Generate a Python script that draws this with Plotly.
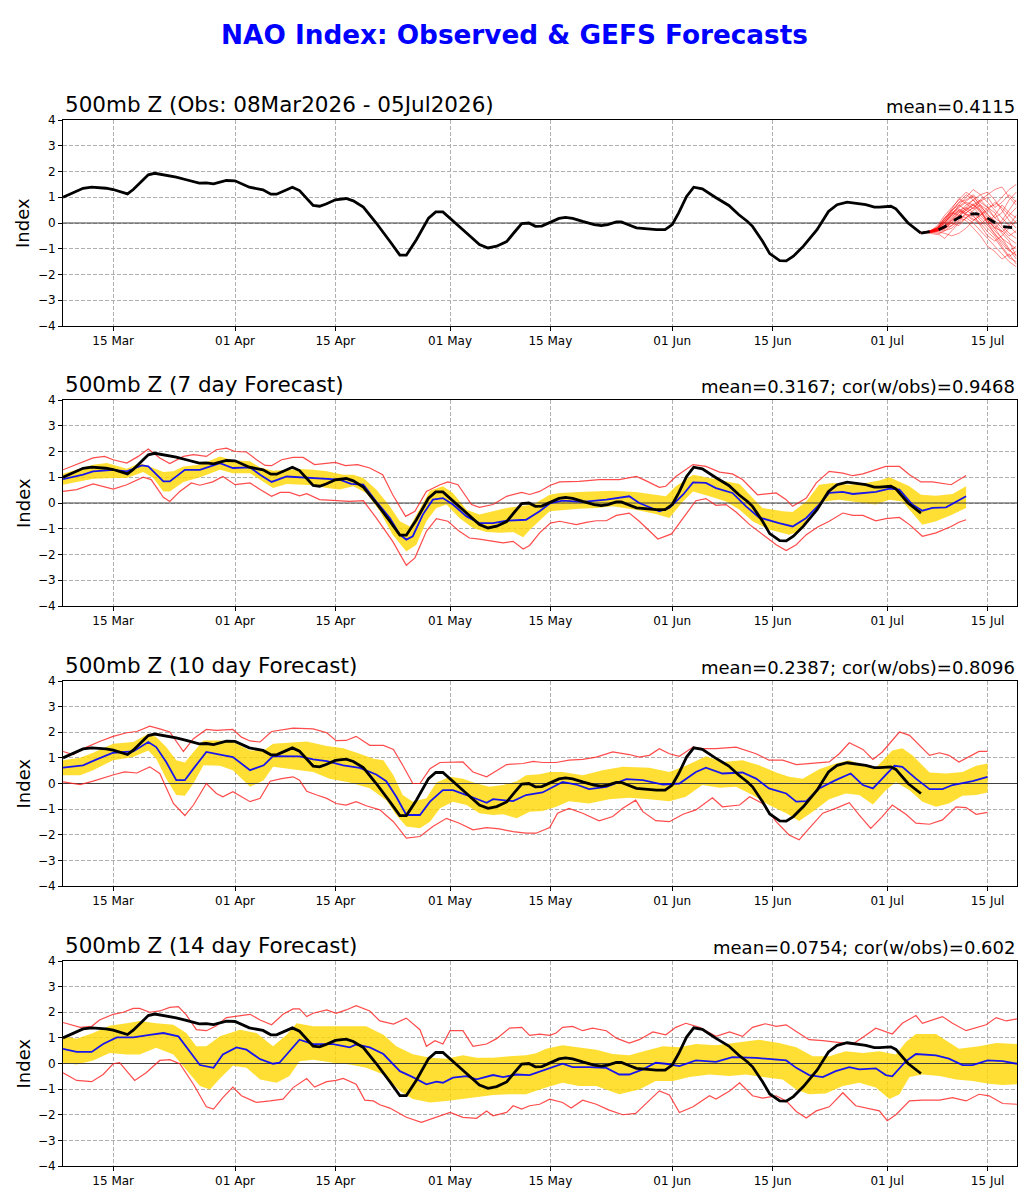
import plotly.graph_objects as go
import pandas as pd

# ---------------- DATA ----------------
BASE_DATE = "2026-03-08"          # day 0
X_LAST_DAY = 133.1                # right end of the x axis (days after base)

tick_days = [7, 24, 38, 54, 68, 85, 99, 115, 129]
tick_labels = ["15 Mar", "01 Apr", "15 Apr", "01 May", "15 May",
               "01 Jun", "15 Jun", "01 Jul", "15 Jul"]

# observed NAO index (day, value)
obs = [(0, 1.0), (2.8, 1.35), (4, 1.39), (6, 1.35), (7, 1.3), (9, 1.13), (9.8, 1.3),
       (11.9, 1.87), (12.8, 1.93), (14.4, 1.85), (15.8, 1.78), (17.2, 1.68), (19, 1.55),
       (20, 1.56), (21, 1.52), (22.8, 1.65), (24, 1.64), (26, 1.39), (27.9, 1.29),
       (29, 1.12), (29.8, 1.12), (32, 1.39), (33, 1.26), (34.9, 0.68), (35.8, 0.65),
       (36.7, 0.74), (38, 0.9), (39.5, 0.95), (40.5, 0.86), (41.9, 0.62), (43.7, 0.0),
       (45.6, -0.71), (47, -1.25), (47.9, -1.25), (49.3, -0.65), (51, 0.19), (52, 0.43),
       (53, 0.43), (54, 0.19), (56.3, -0.39), (58.1, -0.84), (59.3, -0.97), (60.5, -0.9),
       (61.9, -0.72), (63, -0.35), (64, -0.02), (65, 0.0), (65.9, -0.13), (66.8, -0.12),
       (68, 0.04), (69.2, 0.18), (70.1, 0.22), (71.1, 0.18), (72.5, 0.06), (74.1, -0.06),
       (75.1, -0.1), (76, -0.06), (77.2, 0.04), (77.9, 0.04), (78.8, -0.06), (80, -0.19),
       (81.6, -0.23), (82.8, -0.26), (84, -0.26), (85, -0.06), (85.9, 0.39), (87, 1.03),
       (88, 1.39), (89.2, 1.33), (91, 1.0), (92.9, 0.68), (94.3, 0.32), (95.5, 0.06),
       (96.2, -0.13), (97.6, -0.71), (98.6, -1.19), (100, -1.46), (100.9, -1.47),
       (101.9, -1.29), (103.3, -0.9), (105.2, -0.26), (106.8, 0.45), (108, 0.71),
       (109.4, 0.81), (110.8, 0.77), (112, 0.71), (113.2, 0.62), (113.9, 0.62),
       (115.5, 0.65), (116.2, 0.55), (117.9, 0.0), (119.7, -0.39)]

# GEFS ensemble members after the last observation (panel 1)
ens_days = [119.7, 121, 122, 123, 124, 125, 126, 127, 128, 129, 130, 131, 132, 133]
ens_members = [
    [-0.38, -0.30, -0.20, 0.10, 0.50, 0.80, 0.90, 1.10, 0.80, 0.60, 0.20, 0.40, 0.90, 1.20],
    [-0.38, -0.35, -0.30, -0.20, 0.10, 0.30, 0.20, 0.00, -0.30, -0.60, -0.90, -1.20, -1.50, -1.70],
    [-0.38, -0.32, -0.10, 0.30, 0.60, 0.90, 1.20, 1.00, 0.70, 0.30, 0.10, -0.20, -0.50, -0.30],
    [-0.38, -0.40, -0.45, -0.30, -0.10, 0.10, 0.40, 0.60, 0.90, 1.10, 1.30, 1.40, 1.00, 0.70],
    [-0.38, -0.34, -0.25, -0.10, 0.20, 0.50, 0.60, 0.40, 0.20, -0.10, -0.40, -0.80, -1.10, -0.90],
    [-0.38, -0.30, -0.20, 0.00, 0.30, 0.70, 1.00, 1.30, 1.10, 0.80, 0.50, 0.20, -0.10, -0.40],
    [-0.38, -0.36, -0.35, -0.40, -0.50, -0.40, -0.20, 0.10, 0.30, 0.00, -0.30, -0.60, -0.80, -1.00],
    [-0.38, -0.33, -0.20, 0.20, 0.50, 0.70, 0.50, 0.70, 0.90, 0.60, 0.70, 1.00, 1.30, 1.50],
    [-0.38, -0.37, -0.30, -0.10, 0.00, 0.30, 0.50, 0.30, -0.10, -0.50, -0.70, -0.50, -0.20, 0.10],
    [-0.38, -0.32, -0.25, 0.00, 0.40, 0.60, 0.80, 0.70, 0.40, 0.10, -0.20, -0.60, -1.00, -1.40],
    [-0.38, -0.35, -0.40, -0.60, -0.30, 0.00, 0.20, 0.50, 0.70, 0.50, 0.20, 0.00, 0.30, 0.60],
    [-0.38, -0.31, -0.15, 0.20, 0.40, 0.30, 0.60, 0.90, 1.10, 1.20, 0.90, 0.50, 0.10, -0.20],
    [-0.38, -0.34, -0.30, -0.20, -0.10, 0.20, 0.10, -0.20, -0.50, -0.90, -1.10, -1.40, -1.20, -1.60],
    [-0.38, -0.33, -0.22, 0.05, 0.30, 0.50, 0.40, 0.60, 0.30, 0.50, 0.80, 0.60, 0.30, 0.00],
    [-0.38, -0.36, -0.30, -0.15, 0.15, 0.40, 0.70, 0.90, 0.60, 0.20, -0.20, -0.30, -0.60, -0.80],
    [-0.38, -0.30, -0.18, 0.10, 0.35, 0.55, 0.30, 0.10, 0.30, 0.60, 0.40, -0.10, -0.40, -0.60],
    [-0.38, -0.35, -0.28, -0.20, 0.00, -0.10, 0.20, 0.40, 0.10, -0.20, -0.50, -0.90, -1.30, -1.10],
    [-0.38, -0.32, -0.20, 0.10, 0.45, 0.80, 1.10, 0.90, 0.50, 0.00, 0.30, 0.70, 0.40, 0.20],
    [-0.38, -0.34, -0.26, -0.05, 0.25, 0.45, 0.35, 0.15, -0.05, 0.20, -0.10, -0.40, -0.70, -1.30],
    [-0.38, -0.33, -0.30, -0.25, 0.05, 0.25, 0.50, 0.70, 0.50, 0.10, -0.20, 0.10, 0.50, 0.90],
    [-0.38, -0.31, -0.22, 0.15, 0.55, 0.95, 0.75, 0.55, 0.85, 1.00, 0.60, 0.80, 1.10, 0.80],
    [-0.38, -0.36, -0.33, -0.30, -0.20, 0.05, 0.35, 0.25, 0.00, -0.35, -0.60, -1.00, -1.35, -1.50],
    [-0.38, -0.32, -0.24, 0.00, 0.35, 0.65, 0.85, 1.05, 0.65, 0.35, 0.00, -0.35, -0.10, 0.30],
    [-0.38, -0.35, -0.27, -0.12, 0.10, 0.40, 0.55, 0.75, 0.45, 0.00, -0.45, -0.70, -1.05, -1.25],
]
ens_mean = [(119.7, -0.39), (120.6, -0.35), (122, -0.28), (123, -0.15), (124.3, 0.1),
            (125.7, 0.32), (127.4, 0.36), (128.3, 0.3), (129.5, 0.1), (130.9, -0.13),
            (132.5, -0.18), (133.1, -0.18)]

# ---- 7 day forecast ----
fc7_max = [(0, 1.29), (4.2, 1.75), (5.8, 1.81), (7, 1.68), (8.9, 1.55), (10.5, 1.81), (11.9, 2.1),
           (13.5, 1.75), (14.9, 1.53), (16.8, 1.81), (18.2, 1.88), (20, 1.81), (21.4, 2.07),
           (22.8, 2.13), (24, 2.0), (25.6, 1.98), (27, 1.68), (28.2, 1.46), (29.1, 1.45),
           (30.5, 1.68), (32.1, 1.77), (33.5, 1.77), (35.1, 1.49), (36.6, 1.55), (38, 1.58),
           (39.4, 1.45), (41.1, 1.49), (42.8, 1.36), (44.6, 1.1), (46, 0.32), (47.8, -0.52),
           (49.1, -0.32), (50.7, 0.45), (52.6, 0.71), (53.7, 0.82), (55.1, 0.71), (57, -0.06),
           (58.1, -0.17), (60, -0.06), (61.9, 0.26), (64, 0.41), (65.1, 0.33), (66.5, 0.45),
           (68, 0.69), (69.3, 0.82), (72, 0.84), (74.8, 0.91), (77.6, 0.91), (80, 1.03),
           (81.3, 0.87), (83.2, 0.61), (84.1, 0.65), (85.5, 1.03), (87.9, 1.49), (89.7, 1.42),
           (91.6, 1.2), (93.4, 1.13), (94.8, 0.91), (96.9, 0.32), (99.5, 0.39), (100.9, 0.13),
           (101.8, -0.13), (103.7, 0.19), (105.1, 0.78), (106.9, 1.23), (108.8, 1.16),
           (110.2, 1.06), (111.6, 1.13), (113.4, 1.29), (114.8, 1.42), (116.7, 1.42),
           (118.1, 1.1), (119.7, 0.82), (121.3, 0.82), (123.9, 0.71), (126, 1.07)]
fc7_min = [(0, 0.45), (1.9, 0.52), (4.2, 0.74), (7, 0.54), (8.9, 0.71), (11.2, 1.0), (12.3, 0.91),
           (14, 0.22), (14.9, 0.06), (16.3, 0.45), (17.9, 0.78), (19.1, 0.69), (20.9, 0.82),
           (22.3, 1.03), (24, 0.71), (26.1, 0.78), (27.5, 0.52), (29.1, 0.26), (30.3, 0.41),
           (31.6, 0.41), (33, 0.28), (34, 0.36), (35.8, 0.13), (38.1, 0.09), (40, 0.06),
           (41.9, 0.09), (43.7, -0.58), (46, -1.49), (47.9, -2.42), (49.1, -2.13), (50.7, -1.1),
           (52.1, -0.61), (53.7, -0.71), (55.3, -1.1), (56.7, -1.36), (58.1, -1.4), (60, -1.49),
           (61.4, -1.55), (62.8, -1.49), (64.2, -1.79), (65.1, -1.65), (66.5, -1.16),
           (68, -0.78), (69.3, -0.71), (71.6, -0.84), (73, -0.75), (74.4, -0.69), (75.8, -0.69),
           (77.2, -0.48), (79, -0.39), (80.4, -0.71), (83, -1.4), (84.9, -1.2), (86.5, -0.58),
           (88.3, 0.09), (89.7, 0.17), (91.1, -0.09), (92.5, -0.06), (93.9, -0.35),
           (95.8, -0.84), (97.6, -1.23), (99.5, -1.62), (100.9, -1.85), (102.3, -1.62),
           (103.7, -1.23), (105.3, -0.93), (106.9, -0.71), (108.8, -0.39), (110.2, -0.48),
           (111.6, -0.48), (113.4, -0.69), (114.8, -0.61), (116.7, -0.56), (118.1, -0.84),
           (119.9, -1.29), (121.8, -1.16), (123.9, -0.91), (125, -0.75), (126, -0.65)]
fc7_hi = [(0, 1.14), (4.2, 1.49), (6.1, 1.55), (8.9, 1.33), (10.7, 1.55), (12.1, 1.42), (14, 1.2),
          (15.4, 1.23), (16.8, 1.42), (19.1, 1.49), (21.9, 1.81), (23.7, 1.66), (26.1, 1.62),
          (27.5, 1.38), (29.3, 1.25), (31.2, 1.29), (33, 1.32), (34.9, 1.29), (36.8, 1.23),
          (39.1, 1.1), (40.5, 1.1), (41.9, 0.97), (43.7, 0.52), (45.6, -0.13), (47, -0.71),
          (48.4, -0.91), (49.8, -0.19), (51.2, 0.48), (53, 0.65), (54.4, 0.39), (56.3, -0.26),
          (58.1, -0.45), (60, -0.32), (61.9, -0.19), (63.7, -0.13), (65.6, -0.06), (67.9, 0.32),
          (69.3, 0.39), (72, 0.43), (76.7, 0.48), (79.9, 0.43), (82.7, 0.32), (84.1, 0.26),
          (85.5, 0.65), (87.9, 1.1), (90.2, 0.97), (92.5, 0.84), (94.4, 0.74), (95.8, 0.32),
          (97.6, -0.19), (100.4, -0.32), (101.8, -0.35), (103.7, 0.06), (105.5, 0.71),
          (107.4, 0.78), (109.7, 0.71), (112, 0.78), (113.9, 0.87), (115.3, 1.0), (116.7, 0.82),
          (118.1, 0.65), (119.7, 0.32), (121.8, 0.28), (124.1, 0.35), (126, 0.65)]
fc7_lo = [(0, 0.71), (4.2, 0.94), (7, 0.97), (8.9, 0.97), (11.2, 1.2), (12.6, 0.97), (14, 0.45),
          (14.9, 0.45), (16.8, 0.82), (19.1, 1.0), (21.9, 1.29), (23.7, 1.16), (26.1, 1.16),
          (27.5, 0.91), (29.3, 0.58), (31.2, 0.74), (33, 0.71), (34.9, 0.69), (36.8, 0.58),
          (38.6, 0.52), (40.5, 0.65), (42.3, 0.39), (44.2, -0.32), (46, -1.23), (47.9, -1.88),
          (49.3, -1.62), (50.7, -0.71), (52.1, -0.19), (53.5, -0.06), (55.3, -0.58),
          (57.2, -0.97), (59.1, -1.13), (60.9, -1.16), (62.8, -1.13), (64.2, -1.33),
          (65.1, -1.05), (67.9, -0.32), (69.9, -0.26), (72, -0.22), (74.4, -0.19), (76.7, -0.13),
          (79.9, -0.26), (82.7, -0.43), (84.6, -0.58), (86.5, 0.06), (87.9, 0.45), (90.2, 0.26),
          (92.5, 0.06), (94.4, -0.26), (96.2, -0.71), (98.5, -1.03), (101.3, -1.23),
          (102.7, -1.1), (104.6, -0.32), (106, 0.06), (108.3, 0.13), (111.6, 0.0),
          (113.4, -0.06), (115.3, 0.13), (117.1, 0.06), (118.5, -0.39), (119.9, -0.84),
          (121.8, -0.71), (124.1, -0.45), (126, -0.19)]
fc7_mean = [(0, 0.93), (2.8, 1.1), (4.2, 1.23), (7, 1.29), (8.9, 1.23), (11, 1.46), (11.9, 1.42),
            (14, 0.84), (14.9, 0.84), (17, 1.29), (19.1, 1.29), (21.9, 1.55), (23.7, 1.36),
            (26.1, 1.38), (27.5, 1.1), (29.1, 0.82), (31.2, 1.03), (33, 1.0), (34.9, 0.97),
            (37.2, 0.94), (38.6, 0.91), (40.2, 0.74), (41.9, 0.71), (43.7, 0.06), (45.6, -0.58),
            (47, -1.23), (47.9, -1.42), (48.8, -1.29), (50.2, -0.45), (51.6, 0.13), (53, 0.19),
            (54.4, -0.06), (56.3, -0.52), (58.1, -0.78), (60, -0.78), (61.9, -0.69),
            (64.6, -0.65), (66.5, -0.32), (68, 0.0), (69.7, 0.09), (72.5, 0.04), (75.8, 0.13),
            (79, 0.26), (80.4, 0.0), (83.2, -0.32), (84.6, -0.19), (86.5, 0.32), (87.9, 0.8),
            (89.7, 0.78), (91.1, 0.58), (93.4, 0.39), (95.3, -0.13), (97.1, -0.56),
            (99.9, -0.78), (101.8, -0.91), (103.7, -0.58), (105.5, -0.06), (106.9, 0.39),
            (108.8, 0.43), (110.2, 0.35), (113.4, 0.43), (115.3, 0.56), (116.7, 0.52),
            (118.5, -0.06), (119.9, -0.3), (121.3, -0.19), (123.2, -0.17), (126, 0.26)]

# ---- 10 day forecast ----
fc10_max = [(0, 1.25), (1.4, 1.13), (3.3, 1.42), (5.1, 1.64), (7, 1.84), (8.9, 1.98), (10.3, 2.03),
            (12.1, 2.24), (13.5, 2.13), (14.9, 2.01), (16.8, 1.25), (18.2, 1.75), (20, 2.11),
            (21.4, 2.07), (23.7, 2.11), (24.9, 1.81), (26.1, 1.66), (27.5, 1.62), (29.1, 2.03),
            (32.1, 2.16), (34.9, 2.13), (36.8, 1.98), (38.1, 1.67), (39.5, 1.68), (40.9, 1.84),
            (42.8, 1.49), (44.7, 1.49), (46.1, 1.33), (47.4, 0.71), (48.8, 0.0), (49.8, 0.0),
            (51.2, 0.58), (52.6, 0.82), (54, 0.82), (55.8, 0.84), (57.2, 0.45), (59.1, 0.26),
            (61.9, 0.74), (64.2, 0.78), (65.6, 0.86), (66.9, 0.82), (68.8, 0.82), (70.6, 0.91),
            (72.5, 0.94), (74.4, 1.03), (76.7, 1.23), (79, 1.13), (80.4, 1.03), (81.8, 1.1),
            (83.2, 1.36), (84.6, 1.16), (86, 1.06), (87.9, 1.42), (89.2, 1.36), (91.1, 1.36),
            (93.9, 1.42), (96.7, 1.16), (98.5, 0.91), (100.4, 0.91), (102.3, 0.74),
            (104.6, 0.78), (106.9, 0.84), (108.3, 1.16), (109.7, 1.59), (111.6, 1.33),
            (113, 0.94), (114.3, 1.23), (116.7, 2.01), (118.1, 1.88), (119.5, 1.49),
            (120.9, 1.1), (122.3, 1.2), (123.6, 1.1), (125, 0.84), (126.4, 1.03),
            (127.8, 1.25), (129, 1.25)]
fc10_min = [(0, 0.06), (2.4, -0.04), (4.2, 0.09), (6.1, 0.26), (7.2, 0.35), (8.6, 0.45),
            (10.3, 0.41), (12.1, 0.65), (13.5, 0.39), (15.4, -0.78), (17, -1.25), (18.2, -0.84),
            (20, 0.0), (21.4, -0.39), (22.3, -0.52), (23.7, -0.32), (26.1, -0.71), (27.5, -0.58),
            (28.9, 0.09), (30.5, 0.19), (32.1, 0.26), (33, 0.13), (34, -0.3), (35.4, -0.45),
            (36.8, -0.58), (38.1, -0.78), (39.5, -0.84), (40.9, -0.71), (42.3, -0.87),
            (44.2, -1.03), (46.1, -1.49), (47.9, -2.13), (49.8, -2.07), (51.6, -1.68),
            (53.5, -1.36), (55.3, -1.55), (57.2, -1.81), (59.1, -1.72), (60.9, -1.77),
            (62.8, -1.88), (64.6, -1.94), (66, -1.94), (67.9, -1.72), (69, -1.16), (70.6, -0.97),
            (72.5, -1.16), (74.8, -1.46), (76.7, -1.29), (78.1, -0.97), (79.9, -0.65),
            (80.9, -1.1), (82.7, -1.45), (84.6, -1.49), (86.5, -1.2), (88.3, -1.03),
            (90.6, -0.56), (92, -0.91), (94.4, -0.84), (95.8, -0.52), (97.6, -0.78),
            (99.5, -1.49), (101.3, -2.01), (102.7, -2.2), (104.1, -1.75), (106, -1.16),
            (107.8, -0.97), (109.7, -0.75), (111.1, -1.23), (112.7, -1.75), (114.3, -1.29),
            (115.7, -0.84), (117.6, -1.2), (119, -1.55), (120.9, -1.59), (122.7, -1.42),
            (124.6, -0.91), (126, -0.94), (127.4, -1.2), (129, -1.13)]
fc10_hi = [(0, 0.91), (2.4, 1.0), (4.2, 1.2), (7, 1.55), (9.8, 1.62), (11.9, 1.94), (13, 1.81),
           (14.4, 1.42), (15.8, 0.91), (17, 0.82), (18.2, 1.23), (19.6, 1.68), (21.9, 1.68),
           (23.7, 1.62), (26.1, 1.29), (28, 1.29), (29.3, 1.55), (32.1, 1.62), (34, 1.64),
           (36.8, 1.46), (39.1, 1.38), (41.4, 1.16), (43.3, 0.97), (44.7, 0.91), (46.1, 0.32),
           (47.4, -0.45), (48.8, -0.71), (50.7, -0.58), (52.1, 0.04), (54, 0.26), (55.8, 0.19),
           (57.7, 0.0), (59.5, -0.13), (61.4, -0.06), (63.3, 0.09), (64.6, 0.32), (66.5, 0.36),
           (67.9, 0.45), (69.7, 0.45), (72.5, 0.32), (75.3, 0.52), (78.1, 0.65), (81.8, 0.61),
           (84.6, 0.45), (86.9, 0.69), (89.7, 1.06), (92, 0.84), (94.8, 0.91), (97.1, 0.71),
           (99.5, 0.43), (101.3, 0.26), (103.2, 0.19), (105.5, 0.56), (107.8, 0.78),
           (109.7, 0.91), (111.6, 0.71), (113.4, 0.61), (115.7, 1.29), (117.1, 1.38),
           (118.5, 1.1), (120.9, 0.43), (123.2, 0.39), (125.5, 0.45), (127.4, 0.69), (129, 0.78)]
fc10_lo = [(0, 0.32), (2.4, 0.32), (4.2, 0.52), (7, 0.91), (9.8, 1.03), (11.9, 1.29), (13, 0.97),
           (14.4, 0.19), (15.8, -0.45), (17, -0.48), (18.2, 0.0), (19.6, 0.71), (21.9, 0.69),
           (23.7, 0.52), (26.1, -0.13), (28, 0.13), (29.3, 0.65), (32.1, 0.56), (34.9, 0.45),
           (37.2, 0.19), (40, 0.04), (42.8, -0.19), (45.1, -0.65), (46.5, -1.23), (47.9, -1.68),
           (49.8, -1.75), (51.2, -1.49), (52.6, -0.97), (54.4, -0.71), (56.3, -0.84),
           (58.1, -1.16), (60, -1.23), (61.4, -1.2), (63.3, -1.36), (65.1, -1.1), (66.9, -1.07),
           (68.8, -0.91), (70.6, -0.69), (73.4, -0.78), (76.2, -0.61), (79, -0.56),
           (81.8, -0.61), (84.6, -0.69), (86.9, -0.52), (89.2, -0.06), (91.6, -0.17),
           (93.9, -0.13), (96.2, -0.45), (98.5, -0.84), (100.9, -1.16), (102.7, -1.46),
           (104.6, -1.1), (106.9, -0.61), (109.2, -0.39), (111.1, -0.45), (113, -0.82),
           (114.8, -0.26), (116.2, 0.06), (118.1, -0.26), (119.9, -0.71), (121.8, -0.91),
           (123.6, -0.78), (125.5, -0.48), (127.4, -0.45), (129, -0.35)]
fc10_mean = [(0, 0.62), (2.8, 0.71), (4.7, 0.94), (7, 1.2), (9.8, 1.25), (11.9, 1.62), (13, 1.42),
             (14.4, 0.84), (15.8, 0.13), (17, 0.13), (18.2, 0.58), (20, 1.23), (21.9, 1.13),
             (23.7, 1.03), (26.1, 0.52), (28, 0.71), (29.3, 1.07), (33, 1.06), (34.9, 0.94),
             (36.8, 0.87), (39.1, 0.71), (41.4, 0.61), (43.7, 0.35), (45.1, 0.09), (46.5, -0.52),
             (47.9, -1.23), (49.8, -1.23), (51.2, -0.71), (53, -0.26), (54.4, -0.26),
             (56.3, -0.45), (59.1, -0.75), (60, -0.61), (62.8, -0.69), (64.6, -0.45),
             (66.9, -0.35), (69.7, 0.06), (71.6, -0.04), (73.4, -0.22), (75.8, -0.13),
             (78.6, 0.17), (80.9, 0.13), (83.7, -0.04), (86, 0.0), (88.3, 0.45), (89.7, 0.62),
             (92, 0.39), (94.8, 0.43), (96.7, 0.19), (98.5, -0.19), (100.9, -0.39),
             (102.3, -0.71), (103.7, -0.69), (105.5, -0.19), (107.8, 0.13), (109.9, 0.39),
             (111.6, -0.06), (113, -0.19), (114.3, 0.19), (116, 0.69), (117.1, 0.65),
             (119, 0.19), (120.9, -0.22), (122.7, -0.22), (124.1, -0.06), (126.9, 0.09),
             (129, 0.26)]

# ---- 14 day forecast ----
fc14_max = [(0, 1.6), (2.4, 1.41), (4, 1.45), (5.1, 1.7), (7, 1.92), (8.4, 2.0), (9.8, 2.15),
            (10.7, 2.15), (12.1, 2.0), (13.5, 2.05), (14.9, 2.19), (16.1, 2.22), (17.2, 1.9),
            (18.6, 1.32), (20, 1.28), (21.4, 1.47), (22.8, 1.79), (24.7, 1.87), (26.1, 1.92),
            (27.5, 1.7), (29.1, 1.51), (30.7, 1.92), (32.1, 2.13), (33, 2.13), (34, 1.83),
            (34.9, 1.96), (36.8, 2.09), (38.1, 1.96), (39.5, 2.09), (40.9, 2.26), (42.8, 2.05),
            (44.2, 1.66), (46.1, 1.54), (47.9, 1.77), (49.8, 1.32), (50.7, 0.67), (51.9, 0.89),
            (53, 0.76), (54, 1.28), (55.8, 1.28), (57.2, 0.67), (59.1, 0.76), (60.5, 0.97),
            (62.3, 1.38), (64, 1.41), (65.1, 1.1), (66.5, 1.15), (67.9, 1.1), (68.8, 1.19),
            (69.7, 1.41), (71.1, 1.45), (72.5, 1.28), (73.9, 1.38), (75.8, 1.28), (77.2, 0.99),
            (79, 0.8), (80.4, 0.93), (82.3, 1.23), (84.1, 1.12), (85.5, 1.41), (86.9, 1.57),
            (88.8, 1.41), (91.1, 1.06), (93, 1.23), (94.8, 1.06), (96.2, 1.41), (98, 1.55),
            (99.5, 1.45), (100.9, 1.51), (102.3, 1.25), (104.1, 0.93), (106, 0.89),
            (107.9, 0.84), (110.2, 0.76), (111.6, 1.02), (113.4, 1.38), (115.7, 1.15),
            (117.1, 1.57), (119, 1.87), (119.9, 1.57), (122.7, 1.83), (124.1, 1.57), (126, 1.28),
            (127.4, 1.41), (128.8, 1.51), (130.2, 1.79), (131.6, 1.66), (133.1, 1.74)]
fc14_min = [(0, -0.36), (1.9, -0.66), (4, -0.71), (5.6, -0.43), (7, -0.01), (7.9, 0.03),
            (10, -0.66), (11.6, -0.36), (13.5, 0.12), (14.9, 0.15), (16.3, -0.01), (18.2, -0.81),
            (20, -1.69), (21, -1.78), (22.3, -1.33), (23.7, -0.92), (24.9, -1.26), (27, -1.52),
            (28.9, -1.46), (30.7, -1.39), (32.1, -0.94), (34, -0.59), (35.1, -0.92),
            (36.8, -0.71), (38.1, -0.66), (39.1, -0.58), (40.9, -0.81), (42.1, -1.43),
            (43.3, -1.46), (44.2, -1.61), (45.6, -1.74), (47.9, -2.1), (50, -2.3), (52.1, -2.08),
            (54, -1.91), (55.8, -2.1), (57.7, -2.14), (59.1, -1.85), (60, -2.04), (61.9, -1.91),
            (62.8, -1.65), (64, -1.78), (65.1, -1.65), (66.5, -1.59), (67.9, -1.39),
            (69.7, -1.52), (70.9, -1.74), (72.5, -1.43), (74.4, -1.59), (76.2, -1.82),
            (78.1, -2.0), (79.9, -1.95), (81.8, -1.46), (83.2, -1.07), (84.6, -1.23),
            (86, -1.91), (87.9, -1.69), (90.2, -1.26), (91.1, -1.39), (93, -1.07), (94.4, -0.75),
            (96.2, -1.26), (97.6, -1.35), (99.5, -1.26), (100.9, -1.46), (102.3, -1.87),
            (103.7, -2.13), (105.1, -1.85), (106.9, -1.69), (108.8, -1.14), (110.6, -1.65),
            (112.5, -1.78), (113.9, -1.85), (115, -2.23), (116.2, -2.0), (118.1, -1.46),
            (119.9, -1.43), (122.3, -1.43), (124.1, -1.33), (126, -1.46), (127.8, -1.2),
            (129.2, -1.26), (131.1, -1.56), (133.1, -1.59)]
fc14_hi = [(0, 1.06), (1.9, 0.97), (4.2, 1.19), (6.5, 1.47), (8.9, 1.57), (10.7, 1.66), (13, 1.57),
           (15.4, 1.51), (17.2, 1.19), (18.6, 0.67), (20, 0.67), (21.9, 1.06), (24.7, 1.32),
           (27, 1.19), (29.3, 0.67), (31.2, 1.12), (32.6, 1.57), (34.9, 1.45), (37.7, 1.45),
           (40, 1.45), (42.3, 1.45), (44.7, 1.12), (46.5, 0.67), (48.8, 0.36), (51.2, 0.22),
           (53.5, 0.19), (55.8, 0.32), (57.7, 0.22), (60, 0.22), (62.3, 0.28), (64.6, 0.32),
           (66, 0.4), (67.4, 0.58), (69.7, 0.71), (72, 0.63), (74.4, 0.54), (76.7, 0.37),
           (79, 0.32), (81.3, 0.5), (83.7, 0.67), (86, 0.63), (88.3, 0.76), (91.1, 0.71),
           (93.9, 0.8), (97.1, 0.93), (99.9, 0.8), (102.3, 0.63), (104.6, 0.28), (106.9, 0.28),
           (109.2, 0.48), (111.6, 0.41), (113.9, 0.48), (116.2, 0.35), (117.6, 0.84),
           (119, 1.15), (121.8, 1.15), (123.6, 0.84), (125, 0.58), (127.8, 0.67), (130.2, 0.8),
           (133.1, 0.76)]
fc14_lo = [(0, 0.03), (1.9, -0.04), (4.2, 0.12), (6.5, 0.41), (8.9, 0.35), (10.7, 0.35), (13, 0.61),
           (15.4, 0.35), (17.7, -0.4), (19.1, -0.88), (20.5, -1.01), (21.9, -0.59),
           (23.7, -0.09), (25.6, -0.17), (27.5, -0.62), (29.8, -0.75), (31.6, -0.49),
           (33, 0.09), (34.9, 0.15), (37.7, 0.03), (40, -0.04), (42.3, -0.17), (44.7, -0.43),
           (47, -1.07), (48.8, -1.39), (51.2, -1.52), (53.5, -1.46), (55.8, -1.39),
           (58.1, -1.3), (60, -1.23), (62.3, -1.2), (64.6, -1.2), (67.4, -0.94), (69.7, -0.75),
           (72, -0.88), (74.4, -0.88), (77.6, -1.2), (80.4, -1.01), (82.7, -0.68),
           (85.1, -0.68), (87.4, -0.53), (90.2, -0.43), (93, -0.49), (95.3, -0.43),
           (97.6, -0.53), (100.4, -0.62), (102.3, -1.01), (104.1, -1.2), (106.4, -1.17),
           (108.8, -0.88), (111.1, -0.75), (113.4, -0.94), (115.3, -1.39), (116.7, -1.2),
           (118.1, -0.53), (119.9, -0.43), (122.3, -0.49), (124.6, -0.62), (126.9, -0.68),
           (129.2, -0.79), (131.1, -0.84), (133.1, -0.81)]
fc14_mean = [(0, 0.57), (1.9, 0.45), (4, 0.45), (5.6, 0.76), (7.5, 1.02), (9.8, 1.02),
             (12.1, 1.12), (14, 1.19), (16.1, 1.06), (17.7, 0.48), (19.1, -0.06), (21, -0.17),
             (22.3, 0.35), (24.2, 0.63), (25.6, 0.54), (27.5, 0.17), (29.3, -0.01), (30.2, 0.03),
             (33, 0.93), (34.9, 0.76), (37.7, 0.76), (40, 0.63), (40.9, 0.74), (42.8, 0.63),
             (44.7, 0.37), (47, -0.3), (48.8, -0.53), (50.7, -0.81), (52.1, -0.71), (53, -0.75),
             (54.4, -0.55), (56.3, -0.49), (57.7, -0.62), (60, -0.45), (61.4, -0.53),
             (63.3, -0.43), (65.1, -0.45), (66.5, -0.32), (68.3, -0.14), (69.7, -0.01),
             (71.1, -0.14), (73.4, -0.14), (75.8, -0.17), (77.6, -0.43), (79, -0.43),
             (80.9, -0.23), (82.7, 0.03), (84.1, -0.01), (86, -0.1), (88.3, 0.12), (91.1, 0.06),
             (93.4, 0.25), (96.7, 0.22), (99, 0.15), (100.9, 0.12), (102.3, -0.17),
             (104.1, -0.45), (106, -0.53), (107.8, -0.3), (109.7, -0.14), (111.1, -0.23),
             (113.4, -0.19), (114.8, -0.45), (115.7, -0.5), (117.6, 0.09), (119, 0.37),
             (121.8, 0.32), (123.6, 0.19), (125.5, -0.06), (126.9, -0.06), (129, 0.12),
             (131.1, 0.09), (133.1, -0.01)]

main_title = "NAO Index: Observed & GEFS Forecasts"
panel_titles = ["500mb Z (Obs: 08Mar2026 - 05Jul2026)", "500mb Z (7 day Forecast)",
                "500mb Z (10 day Forecast)", "500mb Z (14 day Forecast)"]
panel_stats = ["mean=0.4115", "mean=0.3167; cor(w/obs)=0.9468",
               "mean=0.2387; cor(w/obs)=0.8096", "mean=0.0754; cor(w/obs)=0.602"]
y_ticks = [-4, -3, -2, -1, 0, 1, 2, 3, 4]

# ---------------- HELPERS ----------------
base = pd.Timestamp(BASE_DATE)


def to_dates(days):
    return [(base + pd.Timedelta(days=float(d))).strftime("%Y-%m-%d %H:%M:%S") for d in days]


def split(pairs):
    return to_dates([p[0] for p in pairs]), [p[1] for p in pairs]


W, H = 1029, 1200
x0_px, x1_px = 63, 1017
panel_px = [(120, 326), (400, 606), (681, 886), (961, 1166)]

FONT = "DejaVu Sans"
RED = "rgba(255,30,30,0.8)"
YELLOW = "rgba(255,215,0,0.8)"
GRID = dict(showgrid=True, gridcolor="#b0b0b0", griddash="4px,2px", gridwidth=0.8)

fig = go.Figure()
layout_axes = {}
annotations = []
x_range = to_dates([0, X_LAST_DAY])

for i, (top, bot) in enumerate(panel_px):
    n = i + 1
    xa = "x" if n == 1 else f"x{n}"
    ya = "y" if n == 1 else f"y{n}"
    ydom = [1 - bot / H, 1 - top / H]
    layout_axes["xaxis" if n == 1 else f"xaxis{n}"] = dict(
        domain=[x0_px / W, x1_px / W], anchor=ya, type="date", range=x_range,
        tickvals=to_dates(tick_days), ticktext=tick_labels, automargin=False, **GRID,
        showline=True, linecolor="black", linewidth=1, mirror=True,
        ticks="outside", ticklen=4, tickcolor="black",
        tickfont=dict(family=FONT, size=12, color="black"), zeroline=False)
    layout_axes["yaxis" if n == 1 else f"yaxis{n}"] = dict(
        domain=ydom, anchor=xa, range=[-4, 4], tickvals=y_ticks, automargin=False, **GRID,
        showline=True, linecolor="black", linewidth=1, mirror=True,
        ticks="outside", ticklen=4, tickcolor="black",
        tickfont=dict(family=FONT, size=12, color="black"), zeroline=False)
    annotations.append(dict(text=panel_titles[i], x=x0_px / W, y=ydom[1], xref="paper",
                            yref="paper", xanchor="left", yanchor="bottom", yshift=1,
                            showarrow=False, font=dict(family=FONT, size=21.5, color="black")))
    annotations.append(dict(text=panel_stats[i], x=x1_px / W, y=ydom[1], xref="paper",
                            yref="paper", xanchor="right", yanchor="bottom", yshift=1,
                            showarrow=False, font=dict(family=FONT, size=18, color="black")))
    annotations.append(dict(text="Index", x=23 / W, y=(ydom[0] + ydom[1]) / 2, xref="paper",
                            yref="paper", xanchor="center", yanchor="middle", textangle=-90,
                            showarrow=False, font=dict(family=FONT, size=18, color="black")))


def zero_line(xa, ya):
    fig.add_trace(go.Scatter(x=x_range, y=[0, 0], mode="lines", xaxis=xa, yaxis=ya,
                             line=dict(color="#404040", width=1.1), hoverinfo="skip"))


def line(pairs, xa, ya, color, width, dash="solid"):
    xs, ys = split(pairs)
    fig.add_trace(go.Scatter(x=xs, y=ys, mode="lines", xaxis=xa, yaxis=ya,
                             line=dict(color=color, width=width, dash=dash)))


# Panel 1: observations + ensemble
zero_line("x", "y")
line(obs, "x", "y", "black", 2.8)
for m in ens_members:
    fig.add_trace(go.Scatter(x=to_dates(ens_days), y=m, mode="lines", xaxis="x", yaxis="y",
                             line=dict(color="rgba(255,0,0,0.6)", width=0.8)))
line(ens_mean, "x", "y", "black", 2.8, dash="dash")

# Forecast panels
forecasts = [(fc7_max, fc7_min, fc7_hi, fc7_lo, fc7_mean),
             (fc10_max, fc10_min, fc10_hi, fc10_lo, fc10_mean),
             (fc14_max, fc14_min, fc14_hi, fc14_lo, fc14_mean)]
for k, (fmax, fmin, fhi, flo, fmean) in enumerate(forecasts):
    n = k + 2
    xa, ya = f"x{n}", f"y{n}"
    hx, hy = split(fhi)
    lx, ly = split(flo)
    fig.add_trace(go.Scatter(x=hx + lx[::-1], y=hy + ly[::-1], mode="lines", fill="toself",
                             fillcolor=YELLOW, line=dict(width=0), xaxis=xa, yaxis=ya))
    zero_line(xa, ya)
    line(fmax, xa, ya, RED, 1.2)
    line(fmin, xa, ya, RED, 1.2)
    line(fmean, xa, ya, "rgba(0,0,255,0.9)", 1.8)
    line(obs, xa, ya, "black", 2.8)

fig.update_layout(
    width=W, height=H, autosize=False, showlegend=False,
    paper_bgcolor="white", plot_bgcolor="white",
    margin=dict(l=0, r=0, t=0, b=0, autoexpand=False),
    title=dict(text=main_title, x=0.5, xanchor="center", y=1 - 35 / H, yanchor="middle",
               yref="container", automargin=False,
               font=dict(family=FONT, size=26.3, color="#0000ff", weight="bold")),
    annotations=annotations,
    **layout_axes,
)

fig.write_html("out.html",
               config={"displayModeBar": False},
               post_script="document.body.style.margin='0';"
                           "document.body.style.overflow='hidden';")
